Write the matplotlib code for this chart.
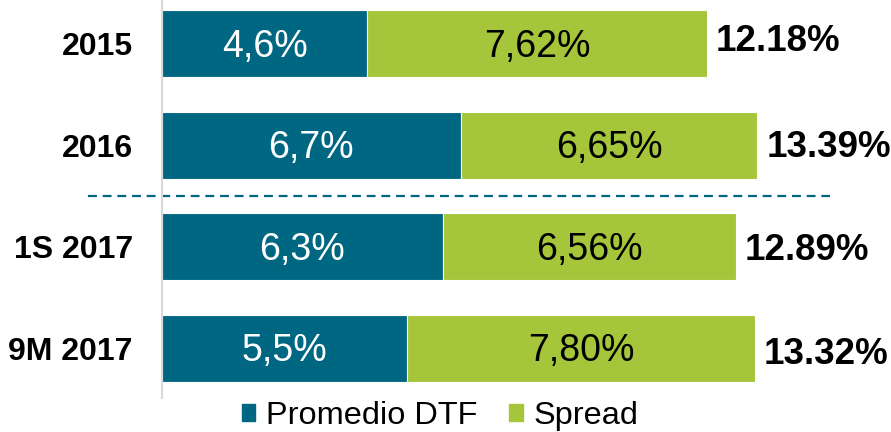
import matplotlib
matplotlib.use("Agg")
import matplotlib.pyplot as plt
from matplotlib.patches import Patch

plt.rcParams['font.family'] = ['Liberation Sans', 'DejaVu Sans']

categories = ["2015", "2016", "1S 2017", "9M 2017"]
dtf = [4.6, 6.7, 6.3, 5.5]
spread = [7.62, 6.65, 6.56, 7.80]
totals = [12.18, 13.39, 12.89, 13.32]
dtf_labels = ["4,6%", "6,7%", "6,3%", "5,5%"]
spread_labels = ["7,62%", "6,65%", "6,56%", "7,80%"]
total_labels = ["12.18%", "13.39%", "12.89%", "13.32%"]

TEAL = "#006783"
GREEN = "#A5C63A"

W, H = 891, 432
fig = plt.figure(figsize=(W / 100, H / 100), dpi=100)
ax = fig.add_axes([162 / W, 1 - 398 / H, 1 - 162 / W, 398 / H])

y = list(range(len(categories)))
ax.barh(y, dtf, height=0.66, color=TEAL, edgecolor="white", linewidth=0.8)
ax.barh(y, spread, left=dtf, height=0.66, color=GREEN, edgecolor="white", linewidth=0.8)

# total labels sit slightly below the bar centre, drifting down the chart
total_nudge = [-0.02, 0.02, 0.04, 0.06]

for i in y:
    ax.text(dtf[i] / 2, i + 0.03, dtf_labels[i], ha="center", va="center",
            color="white", fontsize=27)
    ax.text(dtf[i] + spread[i] / 2, i + 0.03, spread_labels[i], ha="center", va="center",
            color="black", fontsize=27)
    ax.text(dtf[i] + spread[i] + 0.2, i + total_nudge[i], total_labels[i],
            ha="left", va="center", color="black", fontsize=26.5, fontweight="bold")

# dashed separator between annual and 2017 periods
ax.plot([-1.66, 14.98], [1.5, 1.5], color=TEAL, linestyle=(0, (4, 2.6)),
        linewidth=1.6, clip_on=False)

ax.set_xlim(0, (W - 162) / 44.6)
ax.set_ylim(3.49, -0.43)
ax.set_yticks(y)
ax.set_yticklabels(categories, fontsize=23, fontweight="bold")
ax.tick_params(axis="y", length=0, pad=21)
ax.set_xticks([])
for side in ["top", "right", "bottom"]:
    ax.spines[side].set_visible(False)
ax.spines["left"].set_color("#d9d9d9")
ax.spines["left"].set_linewidth(1.5)

handles = [Patch(color=TEAL, label="Promedio DTF"), Patch(color=GREEN, label="Spread")]
fig.legend(handles=handles, loc="center", bbox_to_anchor=(440 / W, 1 - 416 / H),
           ncol=2, frameon=False, fontsize=23.4, handlelength=0.43, handleheight=0.43,
           handletextpad=0.31, columnspacing=1.0, borderpad=0, borderaxespad=0)

fig.savefig("out.png", dpi=100)
